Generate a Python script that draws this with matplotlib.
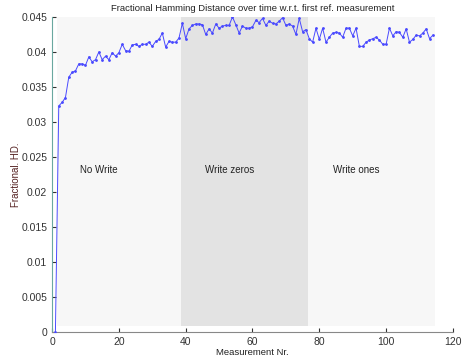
import numpy as np
import matplotlib
matplotlib.use("Agg")
from matplotlib import pyplot as plt

plt.rcParams["font.family"] = ["Liberation Sans", "DejaVu Sans"]

hd = [0.0000, 0.0323, 0.0328, 0.0335, 0.0364, 0.0371, 0.0373, 0.0383, 0.0383, 0.0381,
      0.0393, 0.0386, 0.0389, 0.0400, 0.0389, 0.0394, 0.0389, 0.0399, 0.0394, 0.0399,
      0.0411, 0.0402, 0.0401, 0.0410, 0.0411, 0.0408, 0.0411, 0.0411, 0.0414, 0.0408,
      0.0415, 0.0418, 0.0427, 0.0407, 0.0415, 0.0414, 0.0414, 0.0420, 0.0441, 0.0419,
      0.0433, 0.0438, 0.0440, 0.0440, 0.0439, 0.0425, 0.0433, 0.0427, 0.0440, 0.0434,
      0.0437, 0.0438, 0.0438, 0.0450, 0.0439, 0.0427, 0.0437, 0.0434, 0.0434, 0.0436,
      0.0445, 0.0442, 0.0448, 0.0438, 0.0444, 0.0441, 0.0440, 0.0444, 0.0449, 0.0438,
      0.0440, 0.0437, 0.0425, 0.0448, 0.0429, 0.0432, 0.0419, 0.0414, 0.0434, 0.0418,
      0.0434, 0.0414, 0.0421, 0.0427, 0.0428, 0.0427, 0.0421, 0.0434, 0.0434, 0.0423,
      0.0434, 0.0408, 0.0408, 0.0414, 0.0417, 0.0419, 0.0421, 0.0417, 0.0411, 0.0411,
      0.0434, 0.0423, 0.0429, 0.0428, 0.0421, 0.0433, 0.0414, 0.0418, 0.0424, 0.0423,
      0.0427, 0.0433, 0.0419, 0.0424]
meas = np.arange(1, len(hd) + 1)

phases = ["No Write", "Write zeros", "Write ones"]
phase_start = [1.5, 38.5, 76.5]
phase_end = [38.5, 76.5, 114.5]
phase_col = ["#f7f7f7", "#e3e3e3", "#f7f7f7"]
label_x = [8.4, 45.8, 84]

fig = plt.figure(figsize=(4.65, 3.61), dpi=100)
ax = fig.add_axes([0.112, 0.080, 0.862, 0.873])

for s, e, c in zip(phase_start, phase_end, phase_col):
    ax.fill_between([s, e], 0.0009, 0.045, color=c, lw=0, zorder=0)
for name, lx in zip(phases, label_x):
    ax.text(lx, 0.0231, name, fontsize=7, color="#222222", va="center")

ax.plot(meas, hd, color="#4a4aff", lw=0.7, marker=".", ms=2, zorder=3)

ax.set_xlim(0, 120)
ax.set_ylim(0, 0.045)
ax.set_xticks(np.arange(0, 121, 20))
ax.set_yticks(np.arange(0, 0.0451, 0.005))
ax.set_yticklabels(["0", "0.005", "0.01", "0.015", "0.02", "0.025", "0.03", "0.035", "0.04", "0.045"])
ax.tick_params(direction="in", labelsize=7.5, length=3, colors="#333333")
ax.spines["top"].set_visible(False)
ax.spines["right"].set_visible(False)
ax.spines["left"].set_color("#6aa8a0")
ax.spines["bottom"].set_color("#888888")
ax.set_xlabel("Measurement Nr.", fontsize=6.8, labelpad=1, color="#222222")
ax.set_ylabel("Fractional. HD.", fontsize=7, labelpad=0.5, color="#552222")
ax.set_title("Fractional Hamming Distance over time w.r.t. first ref. measurement",
             fontsize=6.8, pad=4, color="#222222")

fig.savefig("out.png", dpi=100)
